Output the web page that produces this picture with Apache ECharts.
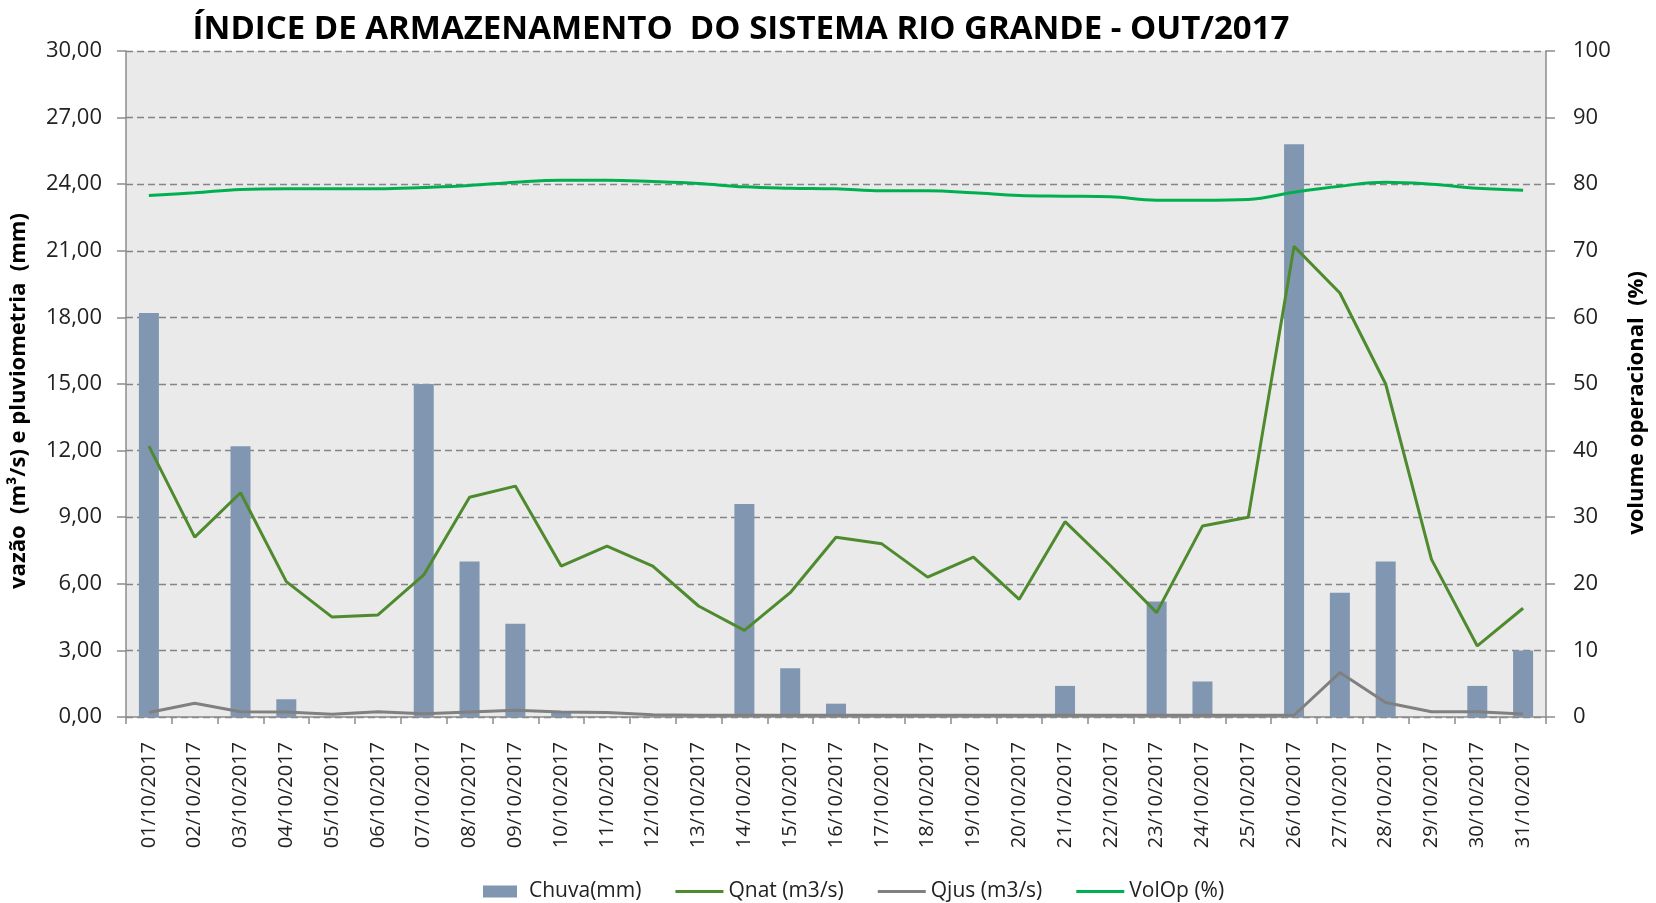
<!DOCTYPE html>
<html>
<head>
<meta charset="utf-8">
<title>Índice de armazenamento - Sistema Rio Grande</title>
<script src="https://cdn.jsdelivr.net/npm/echarts@6/dist/echarts.min.js"></script>
<style>
    html, body { margin: 0; padding: 0; background: #fff; }
    #chart { width: 1656px; height: 903px; }
</style>
</head>
<body>
<div id="chart"></div>
<script>
    var dias = ['01/10/2017','02/10/2017','03/10/2017','04/10/2017','05/10/2017','06/10/2017','07/10/2017','08/10/2017',
        '09/10/2017','10/10/2017','11/10/2017','12/10/2017','13/10/2017','14/10/2017','15/10/2017','16/10/2017',
        '17/10/2017','18/10/2017','19/10/2017','20/10/2017','21/10/2017','22/10/2017','23/10/2017','24/10/2017',
        '25/10/2017','26/10/2017','27/10/2017','28/10/2017','29/10/2017','30/10/2017','31/10/2017'];

    var chuva = [18.2, 0, 12.2, 0.8, 0, 0, 15.0, 7.0, 4.2, 0.2, 0, 0, 0, 9.6, 2.2, 0.6,
        0, 0, 0, 0, 1.4, 0, 5.2, 1.6, 0, 25.8, 5.6, 7.0, 0, 1.4, 3.0];

    var qnat = [12.2, 8.1, 10.1, 6.1, 4.5, 4.6, 6.4, 9.9, 10.4, 6.8, 7.7, 6.8, 5.0, 3.9, 5.6, 8.1,
        7.8, 6.3, 7.2, 5.3, 8.8, 6.8, 4.7, 8.6, 9.0, 21.2, 19.1, 15.0, 7.1, 3.2, 4.9];

    var qjus = [0.2, 0.62, 0.24, 0.23, 0.12, 0.24, 0.15, 0.23, 0.3, 0.23, 0.2, 0.1, 0.08, 0.08, 0.08, 0.08,
        0.08, 0.08, 0.08, 0.08, 0.08, 0.08, 0.08, 0.08, 0.08, 0.08, 2.0, 0.65, 0.24, 0.24, 0.14];

    var volop = [78.3, 78.7, 79.2, 79.3, 79.3, 79.3, 79.5, 79.8, 80.3, 80.6, 80.6, 80.4, 80.1, 79.6, 79.4, 79.3,
        79.0, 79.0, 78.7, 78.3, 78.2, 78.1, 77.6, 77.6, 77.7, 78.8, 79.7, 80.3, 80.0, 79.4, 79.1];

    var fonte = '"Open Sans", "Noto Sans", sans-serif';
    var grade = { show: true, lineStyle: { color: '#858585', type: [7, 4], width: 1.3 } };
    var eixo = { show: true, lineStyle: { color: '#8c8c8c', width: 1.5 } };
    var tick = { show: true, length: 9, lineStyle: { color: '#8c8c8c', width: 1.5 } };
    // icones da legenda: linha fina e retangulo da chuva
    var iconeLinha = 'path://M0,0H48V3H0Z';
    var iconeBarra = 'path://M0,0H34V12H0Z';

    var myChart = echarts.init(document.getElementById('chart'));
    myChart.setOption({
        backgroundColor: '#ffffff',
        animation: false,
        title: {
            text: 'ÍNDICE DE ARMAZENAMENTO  DO SISTEMA RIO GRANDE - OUT/2017',
            left: 736,
            textAlign: 'center',
            top: 8,
            textStyle: { fontFamily: fonte, fontSize: 33, fontWeight: 'bold', color: '#000' }
        },
        legend: {
            left: 478,
            top: 876,
            itemGap: 34,
            itemWidth: 48,
            itemHeight: 12,
            textStyle: { fontFamily: fonte, fontSize: 21, color: '#222' },
            data: [
                { name: 'Chuva(mm)', icon: iconeBarra },
                { name: 'Qnat (m3/s)', icon: iconeLinha },
                { name: 'Qjus (m3/s)', icon: iconeLinha },
                { name: 'VolOp (%)', icon: iconeLinha }
            ]
        },
        grid: {
            left: 119,
            right: 98,
            top: 51,
            bottom: 186,
            show: true,
            backgroundColor: '#eaeaea',
            borderWidth: 0
        },
        xAxis: {
            type: 'category',
            data: dias,
            axisLine: eixo,
            axisTick: { show: true, length: 7, lineStyle: { color: '#8c8c8c', width: 1.5 } },
            axisLabel: {
                rotate: 90,
                margin: 25,
                interval: 0,
                fontFamily: fonte,
                fontSize: 20,
                color: '#222'
            }
        },
        yAxis: [
            {
                type: 'value',
                min: 0,
                max: 30,
                interval: 3,
                name: 'vazão  (m³/s) e pluviometria  (mm)',
                nameLocation: 'middle',
                nameRotate: 90,
                nameGap: 96,
                nameTextStyle: {
                    fontFamily: fonte, fontSize: 22, fontWeight: 'bold', color: '#000',
                    padding: [0, 34, 0, 0]
                },
                axisLine: eixo,
                axisTick: tick,
                splitLine: grade,
                axisLabel: {
                    margin: 24,
                    fontFamily: fonte,
                    fontSize: 22,
                    color: '#222',
                    formatter: function (v) { return v.toFixed(2).replace('.', ','); }
                }
            },
            {
                type: 'value',
                min: 0,
                max: 100,
                interval: 10,
                position: 'right',
                name: 'volume operacional  (%)',
                nameLocation: 'middle',
                nameRotate: 90,
                nameGap: 80,
                nameTextStyle: {
                    fontFamily: fonte, fontSize: 22, fontWeight: 'bold', color: '#000',
                    padding: [0, 38, 0, 0]
                },
                axisLine: eixo,
                axisTick: tick,
                splitLine: { show: false },
                axisLabel: { margin: 27, fontFamily: fonte, fontSize: 22, color: '#222' }
            }
        ],
        series: [
            {
                name: 'Chuva(mm)',
                type: 'bar',
                yAxisIndex: 0,
                barWidth: 20,
                itemStyle: { color: '#8197b1' },
                data: chuva
            },
            {
                name: 'Qnat (m3/s)',
                type: 'line',
                yAxisIndex: 0,
                symbol: 'none',
                lineStyle: { color: '#4e8a2e', width: 3 },
                itemStyle: { color: '#4e8a2e' },
                data: qnat
            },
            {
                name: 'Qjus (m3/s)',
                type: 'line',
                yAxisIndex: 0,
                symbol: 'none',
                lineStyle: { color: '#808080', width: 3 },
                itemStyle: { color: '#808080' },
                data: qjus
            },
            {
                name: 'VolOp (%)',
                type: 'line',
                yAxisIndex: 1,
                symbol: 'none',
                smooth: 0.4,
                lineStyle: { color: '#00b050', width: 3 },
                itemStyle: { color: '#00b050' },
                data: volop
            }
        ]
    });
</script>
</body>
</html>
